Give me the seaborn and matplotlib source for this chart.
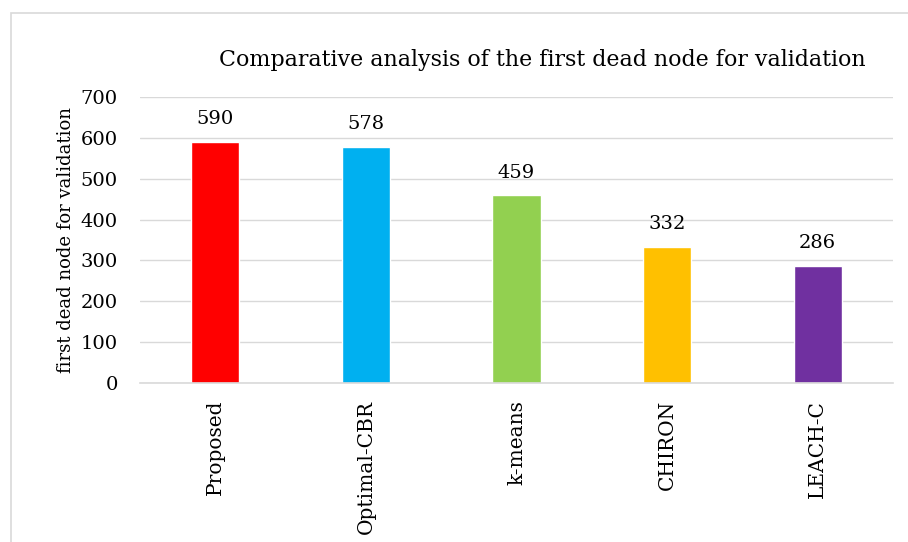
import matplotlib
matplotlib.use("Agg")
import matplotlib.pyplot as plt
import seaborn as sns
import pandas as pd
from matplotlib.patches import Rectangle

methods = ["Proposed", "Optimal-CBR", "k-means", "CHIRON", "LEACH-C"]
values = [590, 578, 459, 332, 286]
colors = ["#FF0000", "#00B0F0", "#92D050", "#FFC000", "#7030A0"]
yticks = [0, 100, 200, 300, 400, 500, 600, 700]

sns.set_theme(style="white")
plt.rcParams['font.family'] = ['DejaVu Serif']
plt.rcParams['text.color'] = 'black'

df = pd.DataFrame({"method": methods, "value": values})

fig = plt.figure(figsize=(9.08, 5.42), dpi=100)
ax = fig.add_axes([140/908, 1-383/542, (893-140)/908, (383-97)/542])

sns.barplot(data=df, x="method", y="value", hue="method", palette=colors,
            width=0.32, ax=ax, legend=False, saturation=1)

ax.set_ylim(0, 700)
ax.set_yticks(yticks)
ax.set_yticklabels([str(t) for t in yticks], fontsize=14, color="black")
ax.grid(axis="y", color="#D9D9D9", linewidth=1)
ax.set_axisbelow(True)
for s in ["top", "right", "left"]:
    ax.spines[s].set_visible(False)
ax.spines["bottom"].set_color("#D9D9D9")
ax.spines["bottom"].set_linewidth(1.2)
ax.tick_params(axis="y", length=0, pad=16)
ax.set_xlabel("")
ax.set_xticks(range(len(methods)))
ax.set_xticklabels(methods, rotation=90, fontsize=14.5, color="black")
ax.tick_params(axis="x", length=0, pad=12)
ax.set_ylabel("first dead node for validation", fontsize=13, labelpad=4, color="black")

for i, v in enumerate(values):
    ax.text(i, v + 34, str(v), ha="center", va="bottom", fontsize=14, color="black")

fig.text(542/908, 1-60/542, "Comparative analysis of the first dead node for validation",
         ha="center", va="center", fontsize=15.9, color="black")

fig.patches.append(Rectangle((11/908, -0.05), 1.0, 1 - 13/542 + 0.05, transform=fig.transFigure,
                             fill=False, edgecolor="#D9D9D9", linewidth=1.2, zorder=-1))

fig.savefig("out.png", dpi=100)
